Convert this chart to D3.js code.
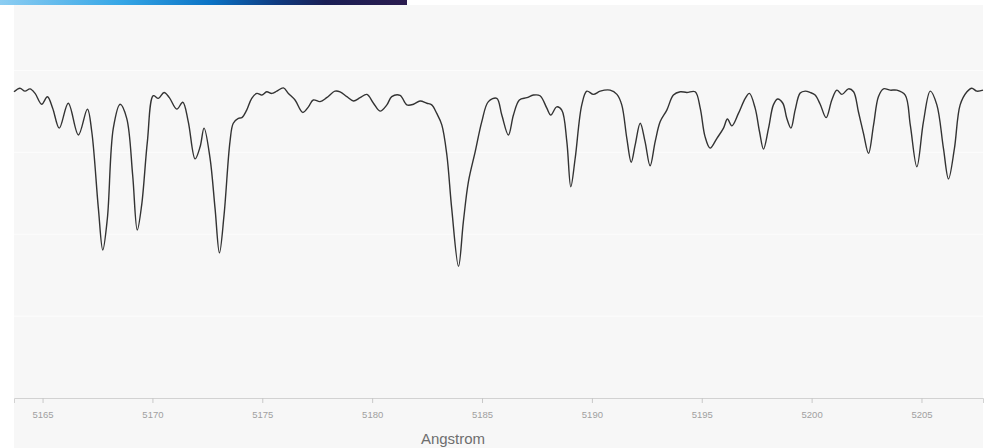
<!DOCTYPE html>
<html>
<head>
<meta charset="utf-8">
<script src="https://cdn.jsdelivr.net/npm/d3@7"></script>
<style>
  html, body { margin: 0; padding: 0; background: #ffffff; }
  svg { display: block; }
</style>
</head>
<body>
<svg id="chart" width="992" height="448"></svg>
<script>
// Normalised flux of the spectrum against wavelength (Angstrom)
const wavelength = [
  5163.70, 5163.97, 5164.20, 5164.43, 5164.66, 5164.96, 5165.22, 5165.46, 5165.76, 5166.17,
  5166.63, 5167.04, 5167.24, 5167.54, 5167.74, 5167.95, 5168.22, 5168.53, 5168.83, 5169.10,
  5169.31, 5169.51, 5169.77, 5170.04, 5170.27, 5170.53, 5170.77, 5171.11, 5171.38, 5171.63,
  5171.94, 5172.17, 5172.35, 5172.62, 5172.85, 5173.05, 5173.26, 5173.53, 5173.68, 5173.91,
  5174.07, 5174.29, 5174.52, 5174.75, 5174.98, 5175.20, 5175.43, 5175.66, 5175.96, 5176.19,
  5176.49, 5176.84, 5177.10, 5177.32, 5177.63, 5177.93, 5178.31, 5178.54, 5178.85, 5179.15,
  5179.45, 5179.76, 5180.06, 5180.36, 5180.67, 5180.89, 5181.27, 5181.58, 5181.88, 5182.18,
  5182.49, 5182.71, 5182.94, 5183.17, 5183.40, 5183.62, 5183.93, 5184.15, 5184.38, 5184.69,
  5184.99, 5185.29, 5185.67, 5185.90, 5186.20, 5186.43, 5186.70, 5187.04, 5187.34, 5187.64,
  5187.95, 5188.13, 5188.40, 5188.63, 5188.86, 5189.04, 5189.24, 5189.54, 5189.77, 5190.07,
  5190.38, 5190.83, 5191.14, 5191.36, 5191.59, 5191.79, 5191.97, 5192.20, 5192.42, 5192.65,
  5192.88, 5193.11, 5193.41, 5193.71, 5194.02, 5194.32, 5194.70, 5194.93, 5195.15, 5195.38,
  5195.69, 5195.99, 5196.17, 5196.37, 5196.67, 5196.98, 5197.17, 5197.43, 5197.63, 5197.81,
  5198.04, 5198.26, 5198.45, 5198.69, 5198.87, 5199.06, 5199.25, 5199.48, 5199.71, 5199.93,
  5200.16, 5200.39, 5200.66, 5200.92, 5201.15, 5201.38, 5201.68, 5201.91, 5202.13, 5202.36,
  5202.59, 5202.82, 5203.04, 5203.27, 5203.58, 5203.88, 5204.26, 5204.49, 5204.79, 5205.09,
  5205.40, 5205.70, 5206.00, 5206.23, 5206.50, 5206.76, 5207.07, 5207.29, 5207.52, 5207.80
];

const flux = [
  0.935, 0.946, 0.937, 0.944, 0.930, 0.897, 0.920, 0.885, 0.824, 0.900,
  0.803, 0.882, 0.813, 0.579, 0.452, 0.549, 0.824, 0.897, 0.854, 0.681,
  0.513, 0.589, 0.783, 0.923, 0.915, 0.933, 0.917, 0.882, 0.903, 0.844,
  0.730, 0.767, 0.824, 0.733, 0.579, 0.443, 0.559, 0.783, 0.839, 0.854,
  0.856, 0.879, 0.915, 0.930, 0.925, 0.935, 0.930, 0.937, 0.947, 0.930,
  0.910, 0.872, 0.889, 0.910, 0.905, 0.917, 0.937, 0.935, 0.920, 0.907,
  0.917, 0.927, 0.900, 0.876, 0.895, 0.920, 0.924, 0.895, 0.897, 0.907,
  0.900, 0.895, 0.869, 0.834, 0.742, 0.579, 0.402, 0.538, 0.660, 0.752,
  0.844, 0.905, 0.915, 0.864, 0.803, 0.864, 0.910, 0.917, 0.925, 0.923,
  0.885, 0.864, 0.889, 0.879, 0.783, 0.645, 0.732, 0.895, 0.937, 0.927,
  0.937, 0.940, 0.927, 0.895, 0.793, 0.720, 0.773, 0.839, 0.783, 0.709,
  0.783, 0.844, 0.879, 0.925, 0.935, 0.933, 0.935, 0.885, 0.798, 0.763,
  0.793, 0.824, 0.852, 0.831, 0.869, 0.915, 0.930, 0.885, 0.813, 0.760,
  0.824, 0.895, 0.913, 0.900, 0.854, 0.824, 0.879, 0.931, 0.937, 0.933,
  0.925, 0.897, 0.856, 0.910, 0.940, 0.927, 0.944, 0.935, 0.874, 0.808,
  0.747, 0.834, 0.920, 0.944, 0.940, 0.940, 0.925, 0.834, 0.706, 0.844,
  0.937, 0.895, 0.762, 0.669, 0.762, 0.895, 0.935, 0.946, 0.937, 0.940
];

const xTicks = [5165, 5170, 5175, 5180, 5185, 5190, 5195, 5200, 5205];
const yGrid = [0.25, 0.5, 0.75, 1.0];
const xTitle = "Angstrom";

const svg = d3.select("#chart");
const W = 992, H = 448;
const plot = { left: 14, right: 983, top: 5, bottom: 398 };

// header ribbon
const defs = svg.append("defs");
const grad = defs.append("linearGradient").attr("id", "ribbon")
  .attr("x1", "0%").attr("x2", "100%").attr("y1", "0%").attr("y2", "0%");
[["0%", "#8ccdf2"], ["30%", "#35a6e6"], ["52%", "#0b72c4"], ["68%", "#0f3b80"],
 ["80%", "#1a1f55"], ["100%", "#2b1c4f"]].forEach(([o, c]) =>
  grad.append("stop").attr("offset", o).attr("stop-color", c));
svg.append("rect").attr("x", 0).attr("y", 0).attr("width", 407).attr("height", 5)
  .attr("fill", "url(#ribbon)");

// panel background
svg.append("rect")
  .attr("x", plot.left).attr("y", plot.top)
  .attr("width", plot.right - plot.left).attr("height", H - plot.top)
  .attr("fill", "#f7f7f7");

const x = d3.scaleLinear().domain([5163.7, 5207.8]).range([plot.left, plot.right]);
const y = d3.scaleLinear().domain([0, 1.2]).range([plot.bottom, plot.top]);

// faint horizontal grid
svg.append("g")
  .selectAll("line").data(yGrid).join("line")
  .attr("x1", plot.left).attr("x2", plot.right)
  .attr("y1", d => y(d)).attr("y2", d => y(d))
  .attr("stroke", "#fcfcfc").attr("stroke-width", 1.2);

// x axis
const axis = svg.append("g")
  .attr("transform", `translate(0,${plot.bottom})`)
  .call(d3.axisBottom(x).tickValues(xTicks).tickSize(5).tickPadding(8).tickFormat(d3.format("d")));
axis.select(".domain").attr("stroke", "#d2d2d2");
axis.selectAll(".tick line").attr("stroke", "#c8c8c8");
axis.selectAll(".tick text")
  .attr("fill", "#a0a0a0")
  .style("font-family", "'Liberation Sans', Arial, sans-serif")
  .style("font-size", "9.5px");

svg.append("text")
  .attr("x", 453).attr("y", 444)
  .attr("text-anchor", "middle")
  .attr("fill", "#6e6e6e")
  .style("font-family", "'Liberation Sans', Arial, sans-serif")
  .style("font-size", "15px")
  .text(xTitle);

// spectrum
const points = wavelength.map((w, i) => [w, flux[i]]);
const line = d3.line()
  .x(d => x(d[0]))
  .y(d => y(d[1]))
  .curve(d3.curveCatmullRom.alpha(0.5));

svg.append("path")
  .datum(points)
  .attr("d", line)
  .attr("fill", "none")
  .attr("stroke", "#333333")
  .attr("stroke-width", 1.4)
  .attr("stroke-linejoin", "round");
</script>
</body>
</html>
